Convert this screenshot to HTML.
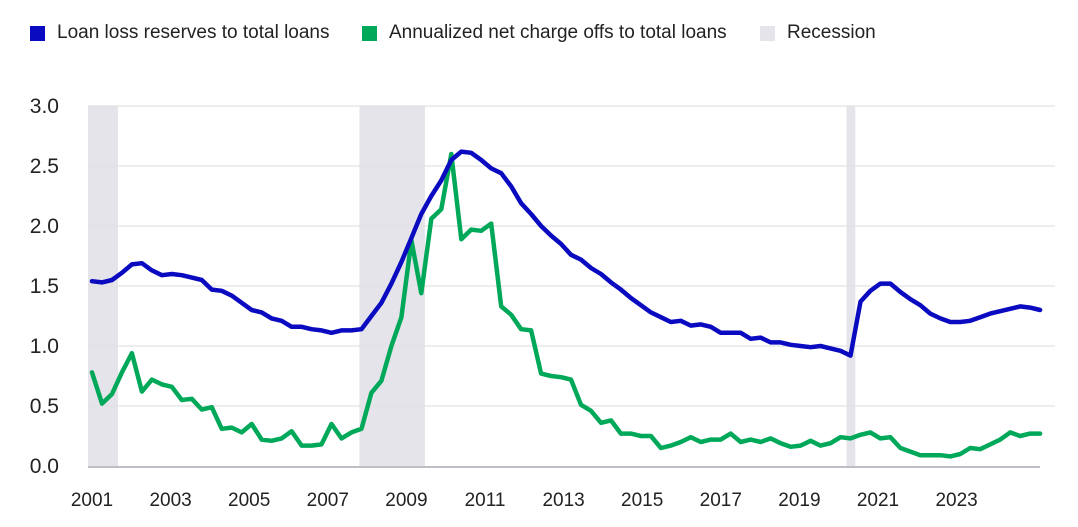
<!DOCTYPE html>
<html><head><meta charset="utf-8"><style>
body{margin:0;background:#fff;width:1078px;height:527px;overflow:hidden;font-family:"Liberation Sans",sans-serif}
.leg{position:absolute;top:22px;font-size:19px;color:#222;display:flex;align-items:center}
.sw{width:15px;height:15px;margin-right:12px;display:inline-block}
</style></head><body>
<div class="leg" style="left:30px"><span class="sw" style="background:#0a0ac0"></span>Loan loss reserves to total loans</div>
<div class="leg" style="left:362px"><span class="sw" style="background:#00a85a"></span>Annualized net charge offs to total loans</div>
<div class="leg" style="left:760px"><span class="sw" style="background:#e4e4ea"></span>Recession</div>
<svg id="chart" width="1078" height="527" style="position:absolute;left:0;top:0"></svg>
<script>
const reserves=[1.54,1.53,1.55,1.61,1.68,1.69,1.63,1.59,1.60,1.59,1.57,1.55,1.47,1.46,1.42,1.36,1.30,1.28,1.23,1.21,1.16,1.16,1.14,1.13,1.11,1.13,1.13,1.14,1.25,1.36,1.52,1.70,1.90,2.10,2.25,2.38,2.55,2.62,2.61,2.55,2.48,2.44,2.33,2.19,2.10,2.00,1.92,1.85,1.76,1.72,1.65,1.60,1.53,1.47,1.40,1.34,1.28,1.24,1.20,1.21,1.17,1.18,1.16,1.11,1.11,1.11,1.06,1.07,1.03,1.03,1.01,1.00,0.99,1.00,0.98,0.96,0.92,1.37,1.46,1.52,1.52,1.45,1.39,1.34,1.27,1.23,1.20,1.20,1.21,1.24,1.27,1.29,1.31,1.33,1.32,1.30];
const chargeOffs=[0.78,0.52,0.60,0.78,0.94,0.62,0.72,0.68,0.66,0.55,0.56,0.47,0.49,0.31,0.32,0.28,0.35,0.22,0.21,0.23,0.29,0.17,0.17,0.18,0.35,0.23,0.28,0.31,0.61,0.71,1.00,1.24,1.88,1.44,2.06,2.14,2.60,1.89,1.97,1.96,2.02,1.33,1.26,1.14,1.13,0.77,0.75,0.74,0.72,0.51,0.46,0.36,0.38,0.27,0.27,0.25,0.25,0.15,0.17,0.20,0.24,0.20,0.22,0.22,0.27,0.20,0.22,0.20,0.23,0.19,0.16,0.17,0.21,0.17,0.19,0.24,0.23,0.26,0.28,0.23,0.24,0.15,0.12,0.09,0.09,0.09,0.08,0.10,0.15,0.14,0.18,0.22,0.28,0.25,0.27,0.27];
const recessionStarts=[2000.9,2007.7,2019.9];
const recessionEnds=[2001.65,2009.34,2020.12];
const yTicks=[0,0.5,1.0,1.5,2.0,2.5,3.0];
const xTickYears=[2001,2003,2005,2007,2009,2011,2013,2015,2017,2019,2021,2023];
const startYear=2001;
const NS="http://www.w3.org/2000/svg";
const svg=document.getElementById('chart');
const x=t=>92+(t-startYear)*39.92;
const xi=i=>x(startYear+i/4);
const y=v=>466-v*120;
function mk(tag,attrs){const e=document.createElementNS(NS,tag);for(const k in attrs)e.setAttribute(k,attrs[k]);svg.appendChild(e);return e;}
recessionStarts.forEach((s,k)=>{
 const r=mk('rect',{x:x(s),y:y(3),width:x(recessionEnds[k])-x(s),height:y(0)-y(3),fill:'#e4e4ea'});
 
 
});
yTicks.forEach(v=>{
 if(v>0){const g=mk('line',{x1:88,x2:1055,y1:y(v),y2:y(v),stroke:'#e2e2e2','stroke-width':1.2});
 
 }
 const t=mk('text',{x:59,y:y(v)+7,'text-anchor':'end','font-size':21,fill:'#222'});
 t.textContent=v.toFixed(1);
 
 
});
const base=mk('line',{x1:88,x2:1040,y1:y(0)+1,y2:y(0)+1,stroke:'#a8a8b4','stroke-width':1.5});


xTickYears.forEach(yr=>{
 const t=mk('text',{x:92+(yr-startYear)*39.3,y:506,'text-anchor':'middle','font-size':19,fill:'#222'});
 t.textContent=yr;
 
 
});
function line(arr,color,name){
 const d=arr.map((v,i)=>(i?'L':'M')+xi(i).toFixed(1)+','+y(v).toFixed(1)).join('');
 const p=mk('path',{d:d,fill:'none',stroke:color,'stroke-width':4.5,'stroke-linejoin':'round','stroke-linecap':'round'});
 
 
}
line(chargeOffs,'#00a85a','charge-offs-line');
line(reserves,'#0a0ac0','reserves-line');
</script>
</body></html>
